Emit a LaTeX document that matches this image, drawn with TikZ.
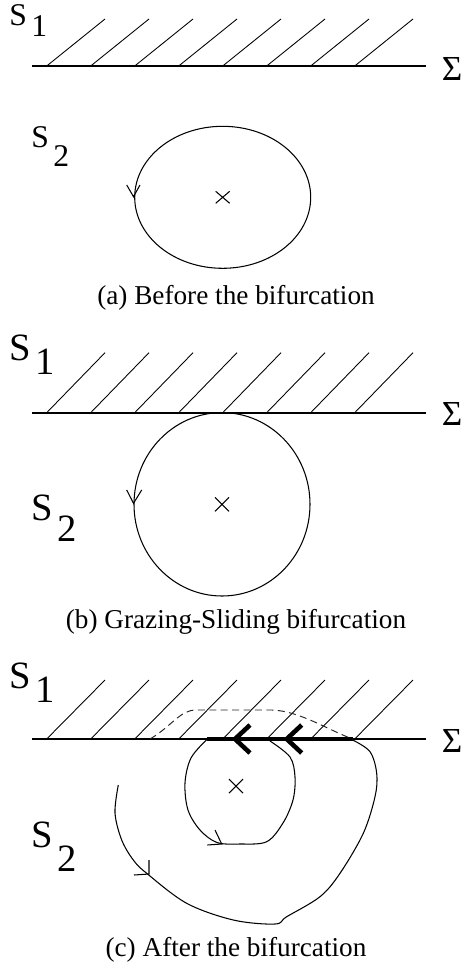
\documentclass[tikz,border=0pt]{standalone}
\usepackage{fontspec}
\setmainfont{Liberation Serif}

\begin{document}
\begin{tikzpicture}[x=0.02cm, y=-0.02cm,
    surface/.style={line width=1.1pt},
    hatch/.style={line width=0.5pt},
    orbit/.style={line width=0.6pt},
    slide/.style={line width=2.6pt},
    ghost/.style={line width=0.55pt, black!85, dash pattern=on 4pt off 2.5pt},
    region/.style={inner sep=0pt, anchor=base west,
      font=\fontsize{22}{22}\selectfont},
    smallregion/.style={region, font=\fontsize{18}{18}\selectfont},
    sigma/.style={inner sep=0pt, font=\fontsize{20}{20}\selectfont},
    caption/.style={inner sep=0pt, anchor=base,
      font=\fontsize{15.5}{18}\selectfont}
  ]
  \useasboundingbox (0,0) rectangle (463,967);

  % (a) antes
  \draw[surface] (32,66) -- (426,66);
  \foreach \x in {46.7,90.7,...,355} \draw[hatch] (\x,66) -- ++(58.3,-47);
  \node[sigma] (siga) at (452,69) {Σ};
  \node[smallregion] (s1a) at (9,25) {S\hspace{2.5pt}\raisebox{-6.8pt}{1}};
  \node[smallregion] (s2a) at (31,147) {S\hspace{2.5pt}\raisebox{-11pt}{2}};
  \coordinate (ca) at (222.7,197.3);
  \draw[orbit] (ca) ellipse [x radius=88, y radius=71];
  \draw[orbit] (126.7,185) -- (133.5,196.7) -- (140,185);
  \draw[orbit] (ca) ++(-7,-6) -- ++(14,12) ++(-14,0) -- ++(14,-12);
  \node[caption] (capa) at (236,304) {(a) Before the bifurcation};

  % (b) rozamiento
  \draw[surface] (32,412.7) -- (426,412.7);
  \foreach \x in {46.7,90.7,...,355} \draw[hatch] (\x,412.7) -- ++(58.3,-60);
  \node[sigma] (sigb) at (452,414) {Σ};
  \node[region] (s1b) at (9,360) {S\hspace{2.5pt}\raisebox{-8.5pt}{1}};
  \node[region] (s2b) at (31,520) {S\hspace{2.5pt}\raisebox{-12.5pt}{2}};
  \coordinate (cb) at (222,504.3);
  \draw[orbit] (cb) ellipse [x radius=88, y radius=91.7];
  \draw[orbit] (126.7,490) -- (133.5,503.3) -- (141.7,490);
  \draw[orbit] (cb) ++(-7,-7) -- ++(14,14) ++(-14,0) -- ++(14,-14);
  \node[caption] (capb) at (236,628) {(b) Grazing-Sliding bifurcation};

  % (c) despues
  \draw[surface] (32,739) -- (426,739);
  \foreach \x in {46.7,90.7,...,355} \draw[hatch] (\x,739) -- ++(58.3,-59);
  \node[sigma] (sigc) at (452,741) {Σ};
  \node[region] (s1c) at (9,688) {S\hspace{2.5pt}\raisebox{-8.5pt}{1}};
  \node[region] (s2c) at (31,847) {S\hspace{2.5pt}\raisebox{-14pt}{2}};
  \coordinate (sl) at (207.3,739);
  \coordinate (sr) at (352.7,739);
  \draw[slide] (sl) -- (sr);
  \draw[slide] (250,725) -- (235,739) -- (250,753);
  \draw[slide] (301.7,725) -- (286.7,739) -- (301.7,753);
  \draw[ghost] (150,739) .. controls (172,726) and (180,710) .. (196,710)
    -- (272,710) .. controls (300,711) and (328,730) .. (sr);
  \draw[orbit] plot[smooth, tension=0.55] coordinates {
    (207.3,739) (191,758) (185,783) (188,810) (200,830) (217,842.5)
    (240,844) (266.7,841.7) (283,823) (293,800) (295,777) (290,757)
    (270,741)};
  \draw[orbit] (215,830) -- (221.7,844) -- (207.3,845);
  \draw[orbit] plot[smooth, tension=0.55] coordinates {
    (118.3,785) (115,813) (121.7,840) (133.3,860) (146.7,873.3)
    (186.7,903.3) (233.3,920) (275,924) (286.7,916.7) (320,896.7)
    (340,873.3) (363.3,833.3) (375,796.7) (376.7,773.3) (370,751.7)
    (352.7,740)};
  \draw[orbit] (149,860) -- (149,874) -- (134,875);
  \coordinate (cc) at (236,786);
  \draw[orbit] (cc) ++(-7,-7) -- ++(14,14) ++(-14,0) -- ++(14,-14);
  \node[caption] (capc) at (236,956) {(c) After the bifurcation};
\end{tikzpicture}
\end{document}
